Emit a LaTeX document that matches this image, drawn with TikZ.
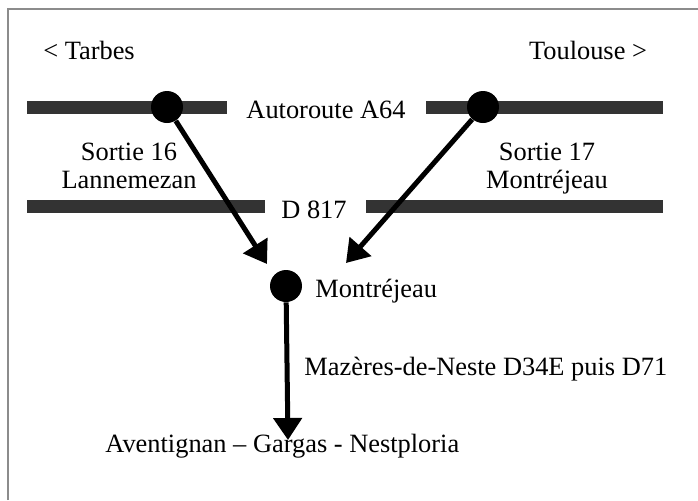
\documentclass[tikz,border=0pt]{standalone}
\usepackage{fontspec}
\setmainfont{Liberation Serif}
\usetikzlibrary{arrows.meta}

\begin{document}
\begin{tikzpicture}[x=0.5pt,y=-0.5pt,
    road/.style={line width=6.5pt, draw=black!80},
    exitdot/.style={circle, fill=black, minimum size=16pt, inner sep=0pt},
    route/.style={line width=2.5pt, -{Triangle[length=11pt,width=14pt]}},
    label/.style={inner sep=0pt, anchor=base, font=\fontsize{13.2}{14}\selectfont},
    frame/.style={line width=1pt, draw=black!45}]
    % Fix the picture size
    \useasboundingbox (0,0) rectangle (698,500);

    % Frame on the left and top
    \draw[frame] (8,500) -- (8,9) -- (698,9);

    % Direction labels
    \node[label] (tarbes) at (89,59) {< Tarbes};
    \node[label] (toulouse) at (588,59) {Toulouse >};

    % Autoroute A64 in two pieces
    \draw[road] (27,107) -- (227,107);
    \draw[road] (426,107) -- (663,107);
    \node[label] (a64) at (326,118) {Autoroute A64};

    % D 817 in two pieces
    \draw[road] (27,206) -- (265,206);
    \draw[road] (366,206) -- (663,206);
    \node[label] (d817) at (314,218) {D 817};

    % Exits (base is the last line)
    \node[label, align=center] (s16) at (129,188) {Sortie 16\\Lannemezan};
    \node[label, align=center] (s17) at (547,188) {Sortie 17\\Montréjeau};

    % Dots on the roads
    \node[exitdot] (exit16) at (167,107) {};
    \node[exitdot] (exit17) at (483,107) {};
    \node[exitdot] (town) at (286,286) {};
    \node[label, anchor=base west] (montrejeau) at (315,297) {Montréjeau};

    % Arrow tips
    \coordinate (tip16) at (267,264);
    \coordinate (tip17) at (346,263);
    \coordinate (tipend) at (288,440);

    % Routes
    \draw[route] (exit16) -- (tip16);
    \draw[route] (exit17) -- (tip17);
    \draw[route] (town) -- (tipend);

    \node[label, anchor=base west] (mazeres) at (304,375) {Mazères-de-Neste D34E puis D71};
    \node[label, anchor=base west] (aventignan) at (105,452) {Aventignan – Gargas - Nestploria};
\end{tikzpicture}
\end{document}
